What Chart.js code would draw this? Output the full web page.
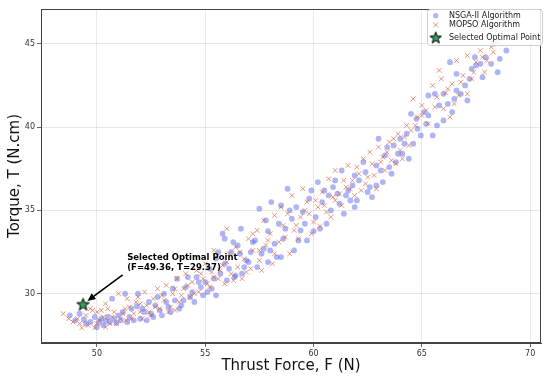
<!DOCTYPE html>
<html>
<head>
<meta charset="utf-8">
<script src="https://cdn.jsdelivr.net/npm/chart.js@4.4.1/dist/chart.umd.min.js"></script>
<style>
html,body{margin:0;padding:0;background:#fff;}
#c{display:block;}
</style>
</head>
<body>
<canvas id="c" width="550" height="381"></canvas>
<script>
// ---- data ----
const xTicks = [50, 55, 60, 65, 70];
const yTicks = [30, 35, 40, 45];
const xRange = [47.42, 70.5];
const yRange = [27.04, 47.09];

const seriesNames = ['NSGA-II Algorithm', 'MOPSO Algorithm', 'Selected Optimal Point'];

const nsgaPoints = [
 [48.75,28.7],[49.2,28.8],[49.4,28.45],[49.7,28.3],[49.9,28.6],[50.1,28.3],[50.3,28.1],[50.4,28.35],
 [50.6,28.3],[50.7,29.7],[50.9,28.25],[51.1,28.4],[51.3,30.0],[51.5,28.6],[51.6,29.1],[51.85,29.25],
 [52.0,28.5],[51.9,30.0],[52.2,28.9],[52.5,28.8],[52.7,29.3],[52.9,29.0],[53.1,30.0],[53.2,29.5],
 [53.4,28.9],[53.6,29.6],[53.7,30.9],[53.9,29.3],[54.1,30.4],[54.3,29.8],[54.4,30.1],[54.6,31.0],
 [54.7,30.7],[54.9,29.9],[55.0,30.7],[55.2,31.5],[55.3,30.3],[55.5,32.1],[55.6,32.5],[55.7,31.2],
 [55.8,33.6],[55.9,33.3],[56.0,30.8],[56.2,32.5],[56.3,33.1],[56.35,31.0],[56.4,31.1],[56.6,32.4],
 [56.65,33.9],[56.7,31.2],[56.9,32.0],[57.0,31.9],[57.2,33.1],[57.3,33.2],[57.5,35.1],[57.6,32.4],
 [57.7,32.7],[57.9,33.75],[57.9,31.9],[58.05,35.5],[58.2,33.0],[58.3,32.2],[58.5,35.3],[58.5,32.2],
 [58.7,33.9],[58.8,36.3],[59.0,34.5],[59.1,32.6],[59.2,35.2],[59.4,33.8],[59.5,34.9],[59.7,33.2],
 [59.8,35.7],[60.0,33.75],[60.1,34.6],[60.2,36.7],[60.4,35.5],[60.6,34.2],[60.7,35.9],[60.9,36.4],
 [61.0,36.8],[61.2,35.4],[61.3,37.4],[61.4,34.8],[61.6,36.2],[61.7,35.6],[61.9,37.1],[61.9,35.2],
 [62.1,36.8],[62.3,37.9],[62.5,36.1],[62.7,35.8],[62.9,37.7],[62.9,36.5],[63.0,39.3],[63.2,36.7],
 [63.3,38.3],[63.5,37.6],[63.7,38.9],[63.8,37.9],[64.0,39.3],[64.1,38.4],[64.3,39.6],[64.5,40.8],
 [64.6,39.0],[64.75,40.5],[64.95,39.5],[65.1,40.9],[65.3,41.9],[65.3,40.7],[65.5,39.5],[65.6,42.0],
 [65.7,40.1],[66.0,40.4],[66.0,42.0],[66.3,43.9],[66.4,40.9],[66.5,41.7],[66.6,43.2],[66.6,42.2],
 [67.0,42.5],[67.1,41.6],[67.3,43.5],[67.45,44.2],[67.5,43.7],[67.8,43.0],[67.95,44.2],[68.2,43.8],
 [68.5,43.3],[68.6,44.1],[68.9,44.6],[68.3,45.0],
 [49.0,28.4],[49.5,28.2],[50.0,28.0],[50.2,28.5],[50.5,28.6],[50.8,28.5],[51.0,28.7],[51.2,28.9],
 [51.4,28.3],[51.7,28.4],[52.1,29.1],[52.3,28.4],[52.4,29.5],[52.6,28.6],[52.8,29.8],[53.0,28.7],
 [53.3,29.2],[53.5,30.3],[53.8,29.1],[54.0,29.6],[54.2,31.0],[54.5,29.5],[54.8,30.4],[55.1,30.1],
 [55.4,30.9],[55.5,29.9],[55.9,31.8],[56.1,31.5],[56.5,32.9],[56.8,31.6],[57.1,32.5],[57.4,31.6],
 [57.8,34.4],[58.0,32.6],[58.4,34.2],[58.6,33.3],[58.9,35.0],[59.3,33.2],[59.6,34.2],[59.9,36.2],
 [60.3,33.9],[60.5,36.2],[60.8,35.0],[61.1,36.0],[61.5,35.9],[61.8,36.5],[62.0,35.6],[62.4,37.3],
 [62.6,36.4],[63.1,37.4],[63.4,38.8],[63.6,37.2],[63.9,38.4],[64.2,39.0],[64.4,38.1],[64.8,39.9],
 [65.2,40.2],[65.8,41.3],[66.2,41.4],[66.8,42.0],[67.2,42.9],[67.7,43.8]
];

const mopsoPoints = [
 [48.45,28.8],[48.9,28.3],[49.3,27.95],[49.1,28.5],[49.6,28.1],[49.8,29.0],[49.9,27.95],[50.0,28.9],
 [50.2,29.0],[50.3,28.6],[50.1,28.4],[50.5,29.1],[50.6,28.2],[50.8,28.9],[50.9,28.2],[51.0,30.0],
 [49.7,29.1],[50.4,29.4],
 [51.2,28.8],[51.35,28.4],[51.5,29.2],[51.6,28.5],[51.8,29.5],[51.9,29.8],[52.0,28.9],[52.2,30.1],
 [52.3,29.3],[52.5,28.7],[52.6,29.7],[52.8,30.3],[52.9,29.1],[51.4,29.7],[52.1,28.5],
 [53.1,29.6],[53.2,30.5],[53.4,29.2],[53.5,30.0],[53.7,30.9],[53.8,29.5],[54.0,30.3],[54.1,31.2],
 [54.3,29.8],[54.4,30.7],[54.6,31.4],[54.7,30.1],[54.9,30.9],[55.0,31.8],[53.6,29.0],
 [55.2,30.4],[55.3,31.3],[55.5,32.2],[55.6,30.9],[55.8,31.7],[55.9,30.6],[56.0,33.9],[56.1,32.4],
 [56.2,31.2],[56.4,32.8],[56.5,31.6],[56.7,30.9],[56.8,32.1],[57.0,33.3],[57.1,31.5],[55.4,32.6],
 [57.2,32.6],[57.4,33.8],[57.5,32.0],[57.7,34.4],[57.8,32.9],[58.0,33.6],[58.1,31.8],[58.2,34.7],
 [58.4,33.1],[58.5,35.2],[58.7,33.4],[58.8,34.8],[58.9,32.4],[59.0,35.9],[57.6,31.4],
 [59.2,34.1],[59.3,33.3],[59.5,36.3],[59.6,35.0],[59.8,34.8],[59.9,33.6],[60.1,35.6],[60.3,34.05],
 [60.4,36.1],[60.5,35.3],[60.7,36.9],[60.8,34.6],[60.9,35.8],[61.0,37.4],
 [61.2,36.0],[61.3,35.3],[61.5,36.4],[61.6,37.7],[61.8,36.8],[61.9,35.9],[62.0,37.6],[62.2,36.2],
 [62.3,38.1],[62.5,37.0],[62.6,38.5],[62.8,37.1],[62.9,36.3],[63.0,38.8],
 [63.2,38.2],[63.3,37.4],[63.5,39.1],[63.6,38.0],[63.8,37.8],[63.9,39.6],[64.1,38.1],[64.3,40.1],
 [64.4,38.9],[64.5,39.8],[64.6,41.7],[64.8,40.6],[65.0,41.3],[65.0,40.7],
 [65.3,40.2],[65.5,42.5],[65.6,41.2],[65.8,43.4],[65.9,42.9],[66.0,41.1],[66.1,42.05],[66.3,40.6],
 [66.4,42.6],[66.6,44.0],[66.7,41.9],[66.9,43.1],
 [67.1,44.3],[67.1,42.0],[67.3,42.9],[67.5,43.9],[67.7,44.6],[68.0,44.0],[68.2,44.8],[68.5,45.1],
 [67.9,43.3],[68.7,45.3],
 [48.7,28.5],[49.2,28.2],[49.5,28.7],[50.0,28.2],[50.4,28.0],[50.7,28.6],[51.1,28.5],[51.3,29.1],
 [51.7,28.8],[52.0,29.4],[52.4,28.9],[52.7,29.2],[53.0,29.9],[53.3,28.9],[53.6,30.3],[53.9,29.9],
 [54.2,30.5],[54.5,30.0],[54.8,31.2],[55.1,30.6],[55.4,31.0],[55.7,31.4],[56.0,31.9],[56.3,30.8],
 [56.6,32.5],[56.9,31.3],[57.2,33.6],[57.5,32.6],[57.9,33.2],[58.2,32.4],[58.6,34.1],[59.1,33.8],
 [59.4,34.6],[59.7,35.5],[60.0,34.3],[60.2,35.2],[60.6,34.9],[61.0,35.6],[61.4,36.8],[61.7,36.3],
 [62.1,37.2],[62.4,36.6],[62.7,37.8],[63.1,37.9],[63.4,38.5],[63.7,39.3],[64.0,38.6],[64.2,39.4],
 [64.7,40.1],[65.2,41.0],[65.7,41.8],[66.2,42.3],[66.5,41.4],[66.8,42.7],[67.4,43.3],[67.8,44.2],
 [68.3,44.5]
];

const selectedF = 49.36;
const selectedT = 29.37;
const annotationLines = ['Selected Optimal Point', '(F=49.36, T=29.37)'];
const annotationTextAt = [51.4, 32.13];
const annotationArrowFrom = [51.19, 31.13];

// ---- styles ----
const NSGA_COLOR = 'rgba(95,105,235,0.5)';
const MOPSO_COLOR = 'rgba(215,95,55,0.65)';
const STAR_FILL = '#379a5e';

function makeStar(size) {
  const c = document.createElement('canvas');
  c.width = size; c.height = size;
  const g = c.getContext('2d');
  const cx = size / 2, cy = size / 2 + 0.6;
  const R = size / 2 - 1, r = R * 0.42;
  g.beginPath();
  for (let i = 0; i < 10; i++) {
    const a = -Math.PI / 2 + i * Math.PI / 5;
    const rr = i % 2 === 0 ? R : r;
    const px = cx + rr * Math.cos(a), py = cy + rr * Math.sin(a);
    if (i === 0) g.moveTo(px, py); else g.lineTo(px, py);
  }
  g.closePath();
  g.fillStyle = STAR_FILL;
  g.fill();
  g.lineWidth = 1;
  g.strokeStyle = '#000';
  g.stroke();
  return c;
}
const starImg = makeStar(15);
const starLegendImg = makeStar(14);

const toXY = pts => pts.map(p => ({x: p[0], y: p[1]}));

const framePlugin = {
  id: 'frame',
  afterDraw(chart) {
    const {ctx, chartArea: a} = chart;
    ctx.save();
    ctx.strokeStyle = '#444';
    ctx.lineWidth = 1;
    ctx.strokeRect(a.left + 0.5, a.top + 0.5, a.right - a.left - 1, a.bottom - a.top - 1);
    ctx.restore();
  }
};

const annotationPlugin = {
  id: 'annot',
  afterDatasetsDraw(chart) {
    const {ctx} = chart;
    const xs = chart.scales.x, ys = chart.scales.y;
    const sx = xs.getPixelForValue(selectedF), sy = ys.getPixelForValue(selectedT);
    const fx = xs.getPixelForValue(annotationArrowFrom[0]), fy = ys.getPixelForValue(annotationArrowFrom[1]);
    const dx = sx - fx, dy = sy - fy, len = Math.hypot(dx, dy);
    const ux = dx / len, uy = dy / len;
    const tx = sx - ux * 5.5, ty = sy - uy * 5.5;
    ctx.save();
    ctx.strokeStyle = '#000';
    ctx.fillStyle = '#000';
    ctx.lineWidth = 1.6;
    const hl = 8, hw = 3.6;
    const bx = tx - ux * hl, by = ty - uy * hl;
    ctx.beginPath();
    ctx.moveTo(fx, fy);
    ctx.lineTo(bx, by);
    ctx.stroke();
    ctx.beginPath();
    ctx.moveTo(tx, ty);
    ctx.lineTo(bx - uy * hw, by + ux * hw);
    ctx.lineTo(bx + uy * hw, by - ux * hw);
    ctx.closePath();
    ctx.fill();
    const lx = xs.getPixelForValue(annotationTextAt[0]);
    const ly = ys.getPixelForValue(annotationTextAt[1]);
    ctx.font = 'bold 8.5px "DejaVu Sans"';
    ctx.textAlign = 'left';
    ctx.textBaseline = 'middle';
    annotationLines.forEach((t, i) => ctx.fillText(t, lx, ly + i * 10));
    ctx.restore();
  }
};

const legendPlugin = {
  id: 'boxLegend',
  afterDraw(chart) {
    const {ctx} = chart;
    const x0 = 427, y0 = 9, w = 115, h = 36;
    ctx.save();
    ctx.beginPath();
    ctx.roundRect(x0 + 0.5, y0 + 0.5, w, h, 3);
    ctx.fillStyle = 'rgba(255,255,255,0.85)';
    ctx.fill();
    ctx.strokeStyle = '#cfcfcf';
    ctx.lineWidth = 1;
    ctx.stroke();
    ctx.fillStyle = NSGA_COLOR;
    ctx.beginPath();
    ctx.arc(435.7, 15.7, 2.6, 0, Math.PI * 2);
    ctx.fill();
    ctx.strokeStyle = MOPSO_COLOR;
    ctx.lineWidth = 1;
    ctx.beginPath();
    ctx.moveTo(433.2, 22.5); ctx.lineTo(438.2, 27.5);
    ctx.moveTo(438.2, 22.5); ctx.lineTo(433.2, 27.5);
    ctx.stroke();
    ctx.drawImage(starLegendImg, 435.7 - 7, 37.5 - 7);
    ctx.fillStyle = '#222';
    ctx.font = '8px "DejaVu Sans"';
    ctx.textAlign = 'left';
    ctx.textBaseline = 'middle';
    ctx.fillText(seriesNames[0], 449, 15.7);
    ctx.fillText(seriesNames[1], 449, 25.2);
    ctx.fillText(seriesNames[2], 449, 37.7);
    ctx.restore();
  }
};

const tickFont = {family: 'DejaVu Sans', size: 8};
const gridOpts = {
  color: 'rgba(0,0,0,0.11)',
  borderDash: [3, 3],
  lineWidth: 0.8,
  tickLength: 4,
  tickColor: '#444',
  tickBorderDash: [],
  drawTicks: true
};

new Chart(document.getElementById('c'), {
  type: 'scatter',
  data: {
    datasets: [
      {
        label: seriesNames[0],
        data: toXY(nsgaPoints),
        backgroundColor: NSGA_COLOR,
        borderColor: 'rgba(0,0,0,0)',
        borderWidth: 0,
        pointRadius: 2.9,
        pointStyle: 'circle',
        order: 3
      },
      {
        label: seriesNames[1],
        data: toXY(mopsoPoints),
        backgroundColor: MOPSO_COLOR,
        borderColor: MOPSO_COLOR,
        borderWidth: 1,
        pointRadius: 3.3,
        pointStyle: 'crossRot',
        order: 2
      },
      {
        label: seriesNames[2],
        data: [{x: selectedF, y: selectedT}],
        pointStyle: starImg,
        pointRadius: 8,
        order: 1
      }
    ]
  },
  options: {
    responsive: false,
    animation: false,
    devicePixelRatio: 1,
    layout: {padding: {top: 5, right: 4, left: 0, bottom: 0}},
    plugins: {legend: {display: false}, tooltip: {enabled: false}},
    scales: {
      x: {
        type: 'linear',
        min: xRange[0], max: xRange[1],
        afterBuildTicks: s => { s.ticks = xTicks.map(v => ({value: v})); },
        afterFit: s => { s.height = 38; },
        ticks: {font: tickFont, color: '#333', padding: 2, maxRotation: 0},
        grid: gridOpts,
        border: {display: true, color: '#444'},
        title: {display: true, text: 'Thrust Force, F (N)', font: {family: 'DejaVu Sans', size: 15}, color: '#111', padding: {top: 0, bottom: 6}}
      },
      y: {
        type: 'linear',
        min: yRange[0], max: yRange[1],
        afterBuildTicks: s => { s.ticks = yTicks.map(v => ({value: v})); },
        afterFit: s => { s.width = 41; },
        ticks: {font: tickFont, color: '#333', padding: 2},
        grid: gridOpts,
        border: {display: true, color: '#444'},
        title: {display: true, text: 'Torque, T (N.cm)', font: {family: 'DejaVu Sans', size: 15}, color: '#111', padding: {top: 6, bottom: 0}}
      }
    }
  },
  plugins: [framePlugin, annotationPlugin, legendPlugin]
});
</script>
</body>
</html>
